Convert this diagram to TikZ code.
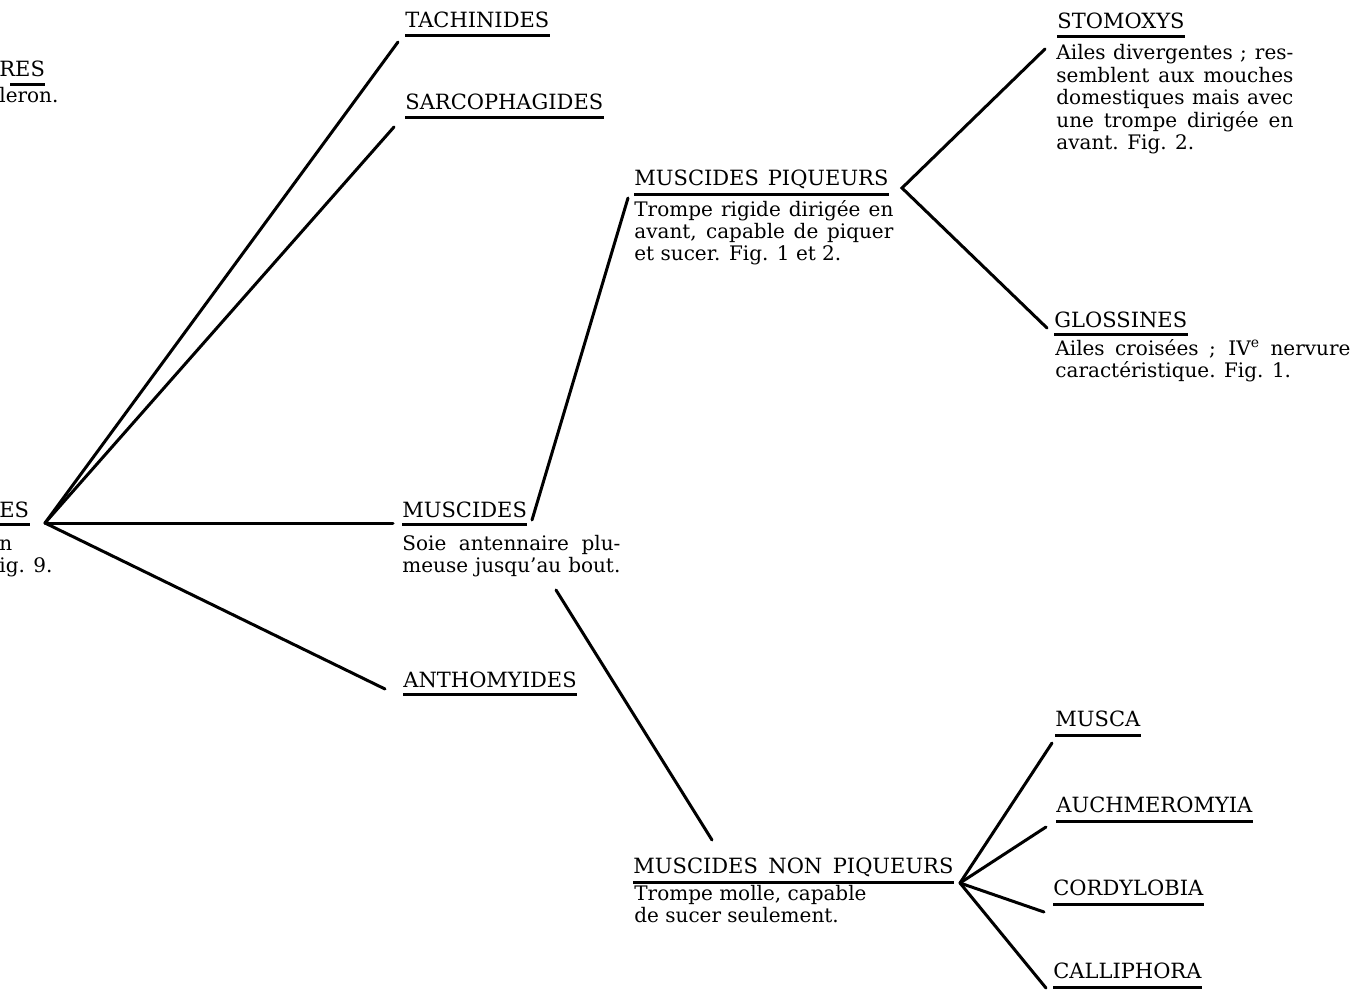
\documentclass[tikz,border=0pt]{standalone}
\usepackage{fontspec}
\setmainfont{DejaVu Serif}
\newcommand\txtlines[1]{\vtop{\baselineskip=11.2pt\lineskiplimit=-20pt #1}}
\begin{document}
\begin{tikzpicture}[x=0.5pt,y=-0.5pt,
  lbl/.style={inner sep=0pt, anchor=base west, font=\fontsize{10}{11}\selectfont},
  hd/.style={lbl, font=\fontsize{10.5}{12}\selectfont, text depth=3.4pt},
  hdlow/.style={hd, text depth=4.5pt},
  body/.style={lbl},
  link/.style={line width=1.5pt, line cap=round},
  uline/.style={line width=1.6pt}]

\useasboundingbox (0,0) rectangle (1354,1006);
\clip (0,0) rectangle (1354,1006);
\fill[white] (0,0) rectangle (1354,1006);

% cut-off texts at the left edge
\node[hd] (lres) at (-1,77) {RES};
\node[body] (lresb) at (-1,103) {leron.};
\node[hd] (les) at (-1,517) {ES};
\node[body] (lesb) at (-1,550) {\txtlines{\hbox{n}\hbox{ig. 9.}}};

% labels
\node[hd] (tach) at (405,28) {TACHINIDES};
\node[hd] (sarc) at (405,110) {SARCOPHAGIDES};
\node[hd] (musc) at (402,517) {MUSCIDES};
\node[body] (muscb) at (402,550) {\txtlines{\hbox to 109pt{Soie antennaire plu-}\hbox to 109pt{meuse jusqu’au bout.}}};
\node[hd] (anth) at (403,687) {ANTHOMYIDES};

\node[hdlow] (mpiq) at (634,185) {\hbox to 127pt{MUSCIDES PIQUEURS}};
\node[body] (mpiqb) at (634,216) {\txtlines{\hbox to 129.5pt{Trompe rigide dirigée en}\hbox to 129.5pt{avant, capable de piquer}\hbox{et sucer. Fig. 1 et 2.}}};

\node[hd] (stom) at (1057,29) {STOMOXYS};
\node[body] (stomb) at (1056,60) {\txtlines{\hbox to 118.5pt{Ailes divergentes ; res-}\hbox to 118.5pt{semblent aux mouches}\hbox to 118.5pt{domestiques mais avec}\hbox to 118.5pt{une trompe dirigée en}\hbox{avant. Fig. 2.}}};

\node[hd] (glos) at (1054,327) {GLOSSINES};
\node[body] (glosb) at (1055,355) {\txtlines{\hbox to 147.5pt{Ailes croisées ; IV\textsuperscript{e} nervure}\hbox{caractéristique. Fig. 1.}}};

\node[hdlow] (mnp) at (633,873) {\hbox to 160pt{MUSCIDES NON PIQUEURS}};
\node[body] (mnpb) at (634,900) {\txtlines{\hbox{Trompe molle, capable}\hbox{de sucer seulement.}}};

\node[hdlow] (musca) at (1055,726) {MUSCA};
\node[hdlow] (auch) at (1056,812) {AUCHMEROMYIA};
\node[hdlow] (cord) at (1053,895) {CORDYLOBIA};
\node[hdlow] (call) at (1053,978) {CALLIPHORA};

% underlines
\draw[uline] ([xshift=5.5pt]lres.south west) -- (lres.south east);
\foreach \n in {les,tach,sarc,musc,anth,mpiq,stom,glos,mnp,musca,auch,cord,call}
  \draw[uline] (\n.south west) -- (\n.south east);

% junction points
\coordinate (root) at (45,523);
\coordinate (mpiqJ) at ([shift={(268,3)}]mpiq.base west);
\coordinate (mnpJ) at ([shift={(327,10)}]mnp.base west);

% connectors
\draw[link] (root) -- ([shift={(-7,14)}]tach.base west);
\draw[link] (root) -- ([shift={(-11,17)}]sarc.base west);
\draw[link] (root) -- ([shift={(-9,6)}]musc.base west);
\draw[link] (root) -- ([shift={(-18,2)}]anth.base west);

\draw[link] ([shift={(130,3)}]musc.base west) -- ([shift={(-6,13)}]mpiq.base west);
\draw[link] ([shift={(154,73)}]musc.base west) -- ([shift={(79,-33)}]mnp.base west);

\draw[link] ([shift={(-12,20)}]stom.base west) -- (mpiqJ) -- ([shift={(-7,1)}]glos.base west);

\draw[link] (mnpJ) -- ([shift={(-3,17)}]musca.base west);
\draw[link] (mnpJ) -- ([shift={(-10,15)}]auch.base west);
\draw[link] (mnpJ) -- ([shift={(-9,17)}]cord.base west);
\draw[link] (mnpJ) -- ([shift={(-7,10)}]call.base west);
\end{tikzpicture}
\end{document}
